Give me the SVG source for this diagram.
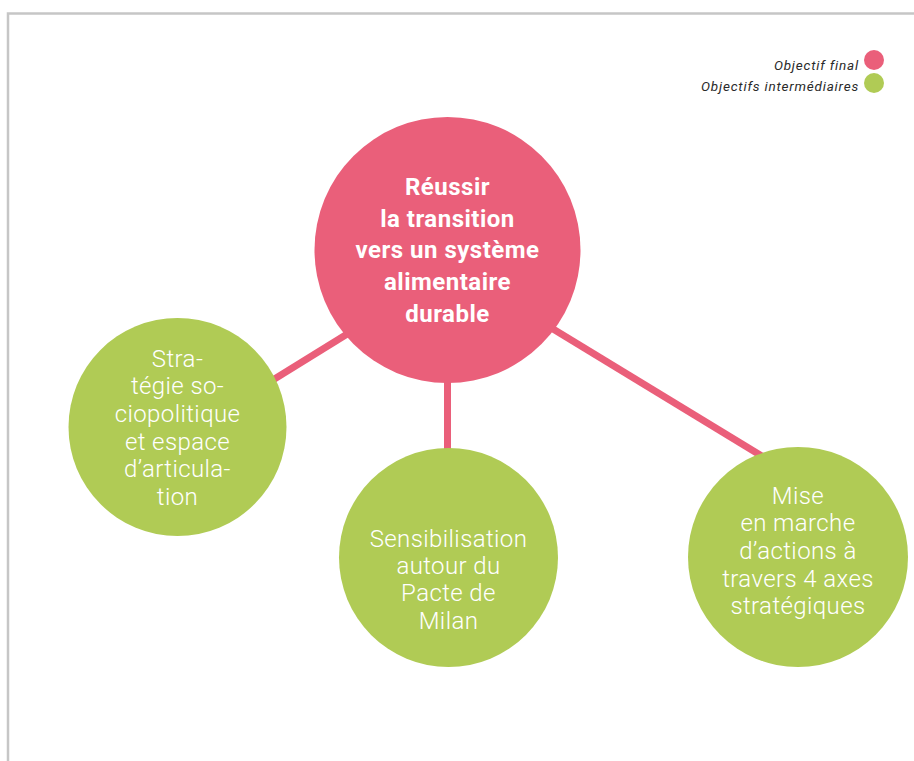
<svg xmlns="http://www.w3.org/2000/svg" width="914" height="761" viewBox="0 0 914 761">
<style>
.frame{fill:none;stroke:#c6c6c6;stroke-width:2.5}
.link{stroke:#ea5f7a;stroke-width:7;fill:none}
.pink{fill:#ea5f7a}
.green{fill:#b0cb55}
.main{font-family:Roboto,"Liberation Sans",sans-serif;font-weight:700;font-size:24px;letter-spacing:0.5px;fill:#fff;text-anchor:middle}
.sub{font-family:Roboto,"Liberation Sans",sans-serif;font-weight:300;font-size:24px;letter-spacing:0.4px;fill:#fff;text-anchor:middle}
.leg{font-family:Roboto,"Liberation Sans",sans-serif;font-style:italic;font-size:13.5px;letter-spacing:0.8px;fill:#2a2a2a;text-anchor:end}
</style>
<rect width="914" height="761" fill="#fff"/>
<path class="frame" d="M8 761 V13.5 H914"/>
<g id="legend">
<text class="leg" x="859" y="70">Objectif final</text>
<circle class="pink" cx="874" cy="60" r="10"/>
<text class="leg" x="859" y="91">Objectifs intermédiaires</text>
<circle class="green" cx="874" cy="83" r="10"/>
</g>
<g id="connectors">
<line class="link" x1="255" y1="391" x2="365" y2="323"/>
<line class="link" x1="447.5" y1="370" x2="447.5" y2="460"/>
<line class="link" x1="535" y1="318" x2="775" y2="464"/>
</g>
<g id="goal">
<circle class="pink" cx="447.5" cy="250" r="133"/>
<text class="main" x="447.5" y="195">Réussir</text>
<text class="main" x="447.5" y="227">la transition</text>
<text class="main" x="447.5" y="258">vers un système</text>
<text class="main" x="447.5" y="290">alimentaire</text>
<text class="main" x="447.5" y="322">durable</text>
</g>
<g id="strategie">
<circle class="green" cx="177.5" cy="427" r="109"/>
<text class="sub" x="177.5" y="367">Stra-</text>
<text class="sub" x="177.5" y="394">tégie so-</text>
<text class="sub" x="177.5" y="422">ciopolitique</text>
<text class="sub" x="177.5" y="450">et espace</text>
<text class="sub" x="177.5" y="477">d’articula-</text>
<text class="sub" x="177.5" y="505">tion</text>
</g>
<g id="sensibilisation">
<circle class="green" cx="448.5" cy="557.5" r="109.5"/>
<text class="sub" x="448.5" y="547">Sensibilisation</text>
<text class="sub" x="448.5" y="574">autour du</text>
<text class="sub" x="448.5" y="601">Pacte de</text>
<text class="sub" x="448.5" y="629">Milan</text>
</g>
<g id="actions">
<circle class="green" cx="798" cy="557" r="110"/>
<text class="sub" x="798" y="504">Mise</text>
<text class="sub" x="798" y="531">en marche</text>
<text class="sub" x="798" y="559">d’actions à</text>
<text class="sub" x="798" y="587">travers 4 axes</text>
<text class="sub" x="798" y="614">stratégiques</text>
</g>
</svg>
